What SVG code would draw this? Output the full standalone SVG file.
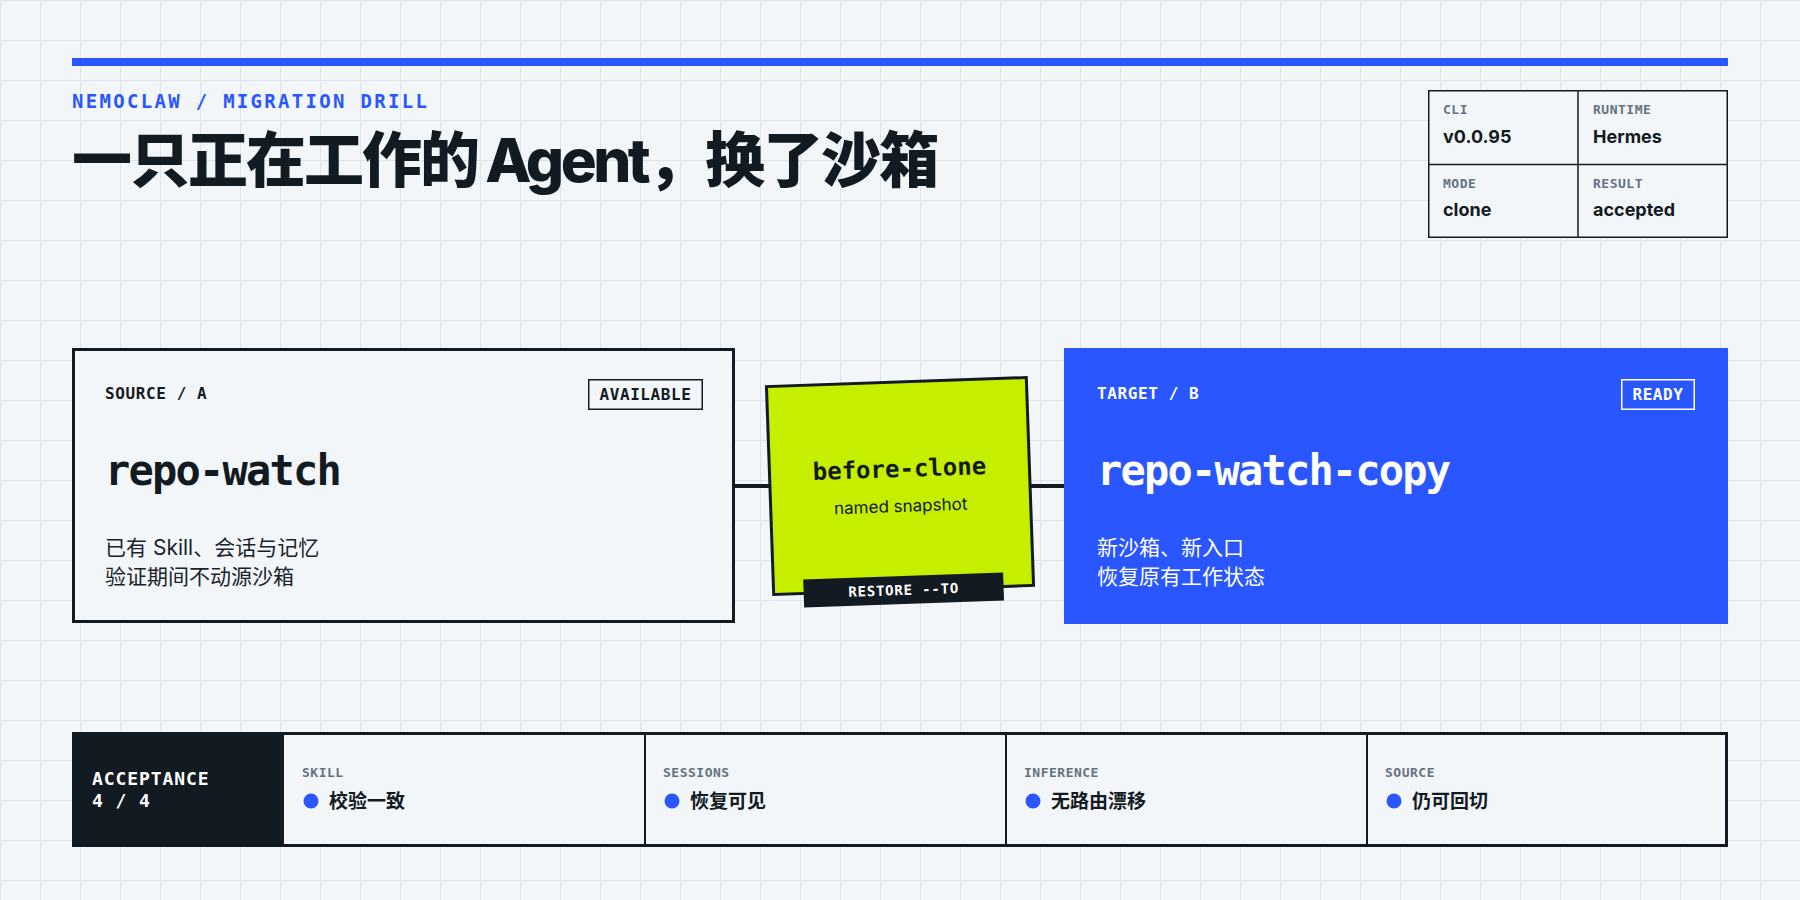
<svg xmlns="http://www.w3.org/2000/svg" width="1800" height="900" viewBox="0 0 1800 900">
<defs>
<pattern id="grid" width="40" height="40" patternUnits="userSpaceOnUse">
<path d="M0 0.5 H40 M0.5 0 V40" fill="none" stroke="#dce4ec" stroke-width="1"/>
</pattern>
<style>
.mono{font-family:"DejaVu Sans Mono","Liberation Mono",monospace;font-weight:700}
.sans{font-family:Inter,"Noto Sans CJK SC",sans-serif}
.cap{font-size:16px;letter-spacing:0.6px}
.lbl{font-size:13px;letter-spacing:0.5px;fill:#667281}
.val{font-size:18px;font-weight:700;fill:#121a22}
.name{font-size:42px;letter-spacing:-1.8px}
.desc{font-size:21px}
.chk{font-size:19px;font-weight:700;fill:#121a22}
.dot{fill:#2956ff}
</style>
</defs>
<rect width="1800" height="900" fill="#f3f6f9"/>
<rect width="1800" height="900" fill="url(#grid)"/>

<g id="header">
<rect x="72" y="58" width="1656" height="8" fill="#2956ff"/>
<text x="72" y="108" class="mono" font-size="19" letter-spacing="2.3" fill="#2956ff">NEMOCLAW / MIGRATION DRILL</text>
<text x="72" y="182" class="sans" font-size="60" font-weight="800" letter-spacing="-2" fill="#121a22">一只正在工作的<tspan letter-spacing="-6"> </tspan><tspan letter-spacing="-3.5">Agent</tspan>，换了沙箱</text>
</g>

<g id="info-table">
<rect x="1428.75" y="90.75" width="298.5" height="146.5" fill="#f3f6f9" stroke="#121a22" stroke-width="1.5"/>
<line x1="1578" y1="91" x2="1578" y2="237" stroke="#121a22" stroke-width="1.5"/>
<line x1="1429" y1="164.5" x2="1727" y2="164.5" stroke="#121a22" stroke-width="1.5"/>
<text x="1443" y="114" class="mono lbl">CLI</text>
<text x="1443" y="143" class="sans val">v0.0.95</text>
<text x="1593" y="114" class="mono lbl">RUNTIME</text>
<text x="1593" y="143" class="sans val">Hermes</text>
<text x="1443" y="188" class="mono lbl">MODE</text>
<text x="1443" y="216" class="sans val">clone</text>
<text x="1593" y="188" class="mono lbl">RESULT</text>
<text x="1593" y="216" class="sans val">accepted</text>
</g>

<g id="connectors">
<line x1="735" y1="486" x2="1064" y2="486" stroke="#121a22" stroke-width="4"/>
</g>

<g id="source">
<rect x="73.5" y="349.5" width="660" height="272" fill="#f3f6f9" stroke="#121a22" stroke-width="3"/>
<text x="105" y="399" class="mono cap" fill="#121a22">SOURCE / A</text>
<rect x="588.75" y="379.75" width="113.5" height="29.5" fill="none" stroke="#121a22" stroke-width="1.5"/>
<text x="645.5" y="399.5" class="mono cap" fill="#121a22" text-anchor="middle">AVAILABLE</text>
<text x="105" y="485" class="mono name" fill="#121a22">repo-watch</text>
<text x="105" y="555" class="sans desc" fill="#1a222b">已有 Skill、会话与记忆</text>
<text x="105" y="584" class="sans desc" fill="#1a222b">验证期间不动源沙箱</text>
</g>

<g id="snapshot" transform="translate(900 486) rotate(-2)">
<rect x="-130" y="-104" width="260" height="208" fill="#c6ef00" stroke="#121a22" stroke-width="3"/>
<text x="0" y="-9" class="mono" font-size="24" fill="#121a22" text-anchor="middle">before-clone</text>
<text x="0" y="26" class="sans" font-size="17" fill="#121a22" text-anchor="middle">named snapshot</text>
<rect x="-100" y="90" width="200" height="28" fill="#121a22"/>
<text x="0" y="109" class="mono" font-size="14" letter-spacing="0.8" fill="#ffffff" text-anchor="middle">RESTORE --TO</text>
</g>

<g id="target">
<rect x="1064" y="348" width="664" height="276" fill="#2956ff"/>
<text x="1097" y="399" class="mono cap" fill="#ffffff">TARGET / B</text>
<rect x="1621.75" y="379.75" width="72.5" height="29.5" fill="none" stroke="#ffffff" stroke-width="1.5"/>
<text x="1658" y="399.5" class="mono cap" fill="#ffffff" text-anchor="middle">READY</text>
<text x="1097" y="485" class="mono name" fill="#ffffff">repo-watch-copy</text>
<text x="1097" y="555" class="sans desc" fill="#ffffff">新沙箱、新入口</text>
<text x="1097" y="584" class="sans desc" fill="#ffffff">恢复原有工作状态</text>
</g>

<g id="acceptance">
<rect x="73.5" y="733.5" width="1653" height="112" fill="#f3f6f9" stroke="#121a22" stroke-width="3"/>
<rect x="72" y="732" width="212" height="115" fill="#121a22"/>
<text x="92" y="785" class="mono" font-size="18" letter-spacing="0.9" fill="#ffffff">ACCEPTANCE</text>
<text x="92" y="807" class="mono" font-size="18" letter-spacing="0.9" fill="#ffffff">4 / 4</text>
<g stroke="#121a22" stroke-width="2">
<line x1="645" y1="733" x2="645" y2="846"/>
<line x1="1006" y1="733" x2="1006" y2="846"/>
<line x1="1367" y1="733" x2="1367" y2="846"/>
</g>
</g>
<g id="check-skill">
<text x="302" y="777" class="mono lbl">SKILL</text>
<circle cx="311" cy="801" r="7.5" class="dot"/>
<text x="329" y="808" class="sans chk">校验一致</text>
</g>
<g id="check-sessions">
<text x="663" y="777" class="mono lbl">SESSIONS</text>
<circle cx="672" cy="801" r="7.5" class="dot"/>
<text x="690" y="808" class="sans chk">恢复可见</text>
</g>
<g id="check-inference">
<text x="1024" y="777" class="mono lbl">INFERENCE</text>
<circle cx="1033" cy="801" r="7.5" class="dot"/>
<text x="1051" y="808" class="sans chk">无路由漂移</text>
</g>
<g id="check-source">
<text x="1385" y="777" class="mono lbl">SOURCE</text>
<circle cx="1394" cy="801" r="7.5" class="dot"/>
<text x="1412" y="808" class="sans chk">仍可回切</text>
</g>
</svg>
